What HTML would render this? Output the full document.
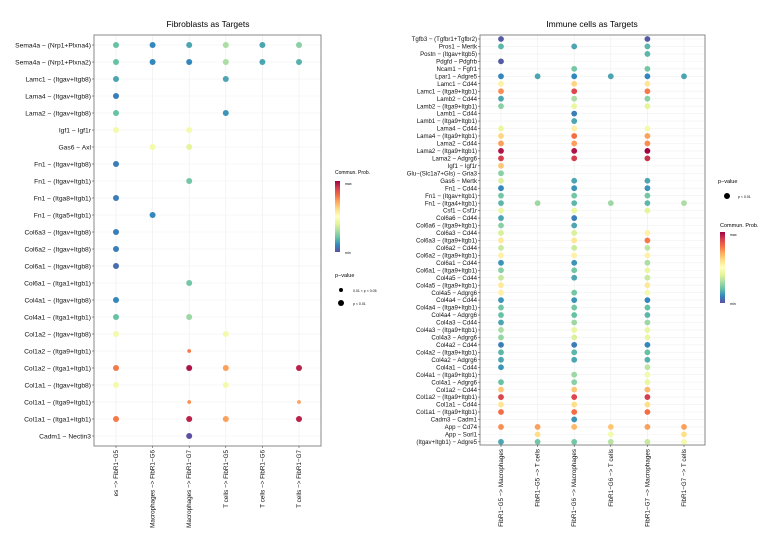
<!DOCTYPE html>
<html><head><meta charset="utf-8"><style>
body{margin:0;background:#fff}
svg{display:block;font-family:"Liberation Sans",sans-serif}
</style></head><body>
<svg id="c" width="766" height="552" viewBox="0 0 766 552">
<defs><linearGradient id="spec" x1="0" y1="1" x2="0" y2="0">
<stop offset="0" stop-color="#5e4fa2"/><stop offset="0.1" stop-color="#3288bd"/><stop offset="0.2" stop-color="#66c2a5"/><stop offset="0.3" stop-color="#abdda4"/><stop offset="0.4" stop-color="#e6f598"/><stop offset="0.5" stop-color="#ffffbf"/><stop offset="0.6" stop-color="#fee08b"/><stop offset="0.7" stop-color="#fdae61"/><stop offset="0.8" stop-color="#f46d43"/><stop offset="0.9" stop-color="#d53e4f"/><stop offset="1" stop-color="#9e0142"/></linearGradient></defs>
<text x="208" y="27" font-size="8.5" text-anchor="middle">Fibroblasts as Targets</text>
<text x="592" y="27" font-size="8.5" text-anchor="middle">Immune cells as Targets</text>
<g>
<text x="335" y="174" font-size="5">Commun. Prob.</text>
<rect x="335" y="181" width="5" height="71" fill="url(#spec)"/>
<text x="345" y="185" font-size="3.5">max</text><text x="345" y="254" font-size="3.5">min</text>
<text x="335" y="277" font-size="5.5">p−value</text>
<circle cx="341" cy="290" r="2"/><text x="353" y="292" font-size="3.5">0.01 &lt; p &lt; 0.05</text>
<circle cx="341" cy="303" r="3"/><text x="353" y="305" font-size="3.5">p &lt; 0.01</text>
</g>
<g>
<text x="718" y="183" font-size="5.5">p−value</text>
<circle cx="727" cy="196" r="3"/><text x="738" y="198" font-size="3.5">p &lt; 0.01</text>
<text x="720" y="227" font-size="5.5">Commun. Prob.</text>
<rect x="720" y="232" width="5" height="71" fill="url(#spec)"/>
<text x="730" y="236" font-size="3.5">max</text><text x="730" y="305" font-size="3.5">min</text>
</g>
</svg>
<script>
const leftRows=["Sema4a  − (Nrp1+Plxna4)","Sema4a  − (Nrp1+Plxna2)","Lamc1  − (Itgav+Itgb8)","Lama4  − (Itgav+Itgb8)","Lama2  − (Itgav+Itgb8)","Igf1  − Igf1r","Gas6  − Axl","Fn1  − (Itgav+Itgb8)","Fn1  − (Itgav+Itgb1)","Fn1  − (Itga8+Itgb1)","Fn1  − (Itga5+Itgb1)","Col6a3  − (Itgav+Itgb8)","Col6a2  − (Itgav+Itgb8)","Col6a1  − (Itgav+Itgb8)","Col6a1  − (Itga1+Itgb1)","Col4a1  − (Itgav+Itgb8)","Col4a1  − (Itga1+Itgb1)","Col1a2  − (Itgav+Itgb8)","Col1a2  − (Itga9+Itgb1)","Col1a2  − (Itga1+Itgb1)","Col1a1  − (Itgav+Itgb8)","Col1a1  − (Itga9+Itgb1)","Col1a1  − (Itga1+Itgb1)","Cadm1 − Nectin3"];
const leftCols=["es −> FibR1−G5","Macrophages −> FibR1−G6","Macrophages −> FibR1−G7","T cells −> FibR1−G5","T cells −> FibR1−G6","T cells −> FibR1−G7"];
const leftVals=[[.2,.1,.15,.3,.15,.25],[.2,.1,.1,.3,.15,.17],[.15,null,null,.15,null,null],[.08,null,null,null,null,null],[.2,null,null,.12,null,null],[.45,null,.45,null,null,null],[null,.45,.4,null,null,null],[.08,null,null,null,null,null],[null,null,.22,null,null,null],[.08,null,null,null,null,null],[null,.1,null,null,null,null],[.08,null,null,null,null,null],[.08,null,null,null,null,null],[.05,null,null,null,null,null],[null,null,.22,null,null,null],[.1,null,null,null,null,null],[.2,null,.28,null,null,null],[.45,null,null,.45,null,null],[null,null,.78,null,null,null],[.78,null,.97,.72,null,.95],[.45,null,null,.45,null,null],[null,null,.75,null,null,.72],[.78,null,.95,.72,null,.95],[null,null,0,null,null,null]];
const leftSmall=[[18,2],[21,2],[21,5]];
const rightRows=["Tgfb3  − (Tgfbr1+Tgfbr2)","Pros1 − Mertk","Postn  − (Itgav+Itgb5)","Pdgfd  − Pdgfrb","Ncam1  − Fgfr1","Lpar1 − Adgre5","Lamc1  − Cd44","Lamc1  − (Itga9+Itgb1)","Lamb2  − Cd44","Lamb2  − (Itga9+Itgb1)","Lamb1  − Cd44","Lamb1  − (Itga9+Itgb1)","Lama4  − Cd44","Lama4  − (Itga9+Itgb1)","Lama2  − Cd44","Lama2  − (Itga9+Itgb1)","Lama2 − Adgrg6","Igf1  − Igf1r","Glu−(Slc1a7+Gls) − Gria3","Gas6  − Mertk","Fn1  − Cd44","Fn1  − (Itgav+Itgb1)","Fn1  − (Itga4+Itgb1)","Csf1  − Csf1r","Col6a6  − Cd44","Col6a6  − (Itga9+Itgb1)","Col6a3  − Cd44","Col6a3  − (Itga9+Itgb1)","Col6a2  − Cd44","Col6a2  − (Itga9+Itgb1)","Col6a1  − Cd44","Col6a1  − (Itga9+Itgb1)","Col4a5  − Cd44","Col4a5  − (Itga9+Itgb1)","Col4a5 − Adgrg6","Col4a4  − Cd44","Col4a4  − (Itga9+Itgb1)","Col4a4 − Adgrg6","Col4a3  − Cd44","Col4a3  − (Itga9+Itgb1)","Col4a3 − Adgrg6","Col4a2  − Cd44","Col4a2  − (Itga9+Itgb1)","Col4a2 − Adgrg6","Col4a1  − Cd44","Col4a1  − (Itga9+Itgb1)","Col4a1 − Adgrg6","Col1a2  − Cd44","Col1a2  − (Itga9+Itgb1)","Col1a1  − Cd44","Col1a1  − (Itga9+Itgb1)","Cadm3 − Cadm1","App  − Cd74","App − Sorl1","(Itgav+Itgb1) − Adgre5"];
const rightCols=["FibR1−G5 −> Macrophages","FibR1−G5 −> T cells","FibR1−G6 −> Macrophages","FibR1−G6 −> T cells","FibR1−G7 −> Macrophages","FibR1−G7 −> T cells"];
const N=null;
const rightVals=[[.02,N,N,N,.02,N],[.18,N,.15,N,.18,N],[N,N,N,N,.18,N],[.02,N,N,N,N,N],[N,N,.22,N,.22,N],[.1,.15,.1,.15,.1,.15],[.55,N,.62,N,.58,N],[.75,N,.88,N,.78,N],[.15,N,.3,N,.25,N],[.25,N,.42,N,.4,N],[N,N,.08,N,N,N],[N,N,.15,N,N,N],[.42,N,.55,N,.45,N],[.62,N,.8,N,.72,N],[.72,N,.72,N,.75,N],[.97,N,.97,N,1,N],[.9,N,.9,N,.92,N],[.65,N,N,N,N,N],[.25,N,N,N,N,N],[.38,N,.15,N,.15,N],[.1,N,.12,N,.12,N],[.22,N,.22,N,.22,N],[.18,.28,.18,.28,.18,.3],[.42,N,.42,N,.4,N],[.15,N,.08,N,N,N],[.25,N,.15,N,N,N],[.38,N,.38,N,.55,N],[.57,N,.58,N,.78,N],[.35,N,.35,N,.33,N],[.55,N,.55,N,.55,N],[.12,N,.12,N,.3,N],[.25,N,.22,N,.42,N],[.35,N,.15,N,.35,N],[.57,N,N,N,.57,N],[.55,N,.22,N,.45,N],[.12,N,.12,N,.1,N],[.22,N,.22,N,.2,N],[.2,N,.2,N,.18,N],[.15,N,.28,N,.28,N],[.3,N,.42,N,.42,N],[.27,N,.38,N,.42,N],[.08,N,.08,N,.1,N],[.18,N,.18,N,.2,N],[.15,N,.15,N,.17,N],[.12,N,N,N,.33,N],[N,N,.28,N,.45,N],[.2,N,.25,N,.42,N],[.65,N,.65,N,.68,N],[.88,N,.88,N,.9,N],[.58,N,.6,N,.6,N],[.8,N,.8,N,.8,N],[N,N,.12,N,N,N],[.75,.72,.68,.65,.72,.72],[N,.6,N,.45,N,.6],[.15,.22,.22,.32,.35,.45]];
const rightSmall=[];
const stops=["#5e4fa2","#3288bd","#66c2a5","#abdda4","#e6f598","#ffffbf","#fee08b","#fdae61","#f46d43","#d53e4f","#9e0142"];
function hex(h){return [1,3,5].map(i=>parseInt(h.substr(i,2),16));}
function color(v){v=Math.max(0,Math.min(1,v));const t=v*10,i=Math.min(9,Math.floor(t)),f=t-i;const a=hex(stops[i]),b=hex(stops[i+1]);return 'rgb('+a.map((x,k)=>Math.round(x+(b[k]-x)*f)).join(',')+')';}
const NS="http://www.w3.org/2000/svg",svg=document.getElementById('c');
function mk(t,at,p){const e=document.createElementNS(NS,t);for(const k in at)e.setAttribute(k,at[k]);(p||svg).appendChild(e);return e;}
function panel(cfg){
const g=mk('g',{});


const xs=c=>cfg.x0+c*cfg.dx, ys=r=>cfg.y0+r*cfg.dy;
cfg.cols.forEach((c,i)=>mk('line',{x1:xs(i),x2:xs(i),y1:cfg.top,y2:cfg.bot,stroke:'#ececec','stroke-width':0.6},g));
cfg.rows.forEach((r,i)=>mk('line',{x1:cfg.left,x2:cfg.right,y1:ys(i),y2:ys(i),stroke:'#f0f0f0','stroke-width':0.6},g));
const box=mk('rect',{x:cfg.left,y:cfg.top,width:cfg.right-cfg.left,height:cfg.bot-cfg.top,fill:'none',stroke:'#888','stroke-width':1},g);


cfg.rows.forEach((r,i)=>{
mk('line',{x1:cfg.left-2,x2:cfg.left,y1:ys(i),y2:ys(i),stroke:'#333','stroke-width':0.5},g);
const t=mk('text',{x:cfg.left-3,y:ys(i)+cfg.fs*0.35,'font-size':cfg.fs,'text-anchor':'end',fill:'#111'},g);
t.textContent=r;


});
cfg.cols.forEach((c,i)=>{
mk('line',{x1:xs(i),x2:xs(i),y1:cfg.bot,y2:cfg.bot+2,stroke:'#333','stroke-width':0.5},g);
const t=mk('text',{x:0,y:0,'font-size':6.3,'text-anchor':'end',transform:'translate('+(xs(i)+2)+','+(cfg.bot+4)+') rotate(-90)',fill:'#111'},g);
t.textContent=c;


});
cfg.vals.forEach((row,r)=>row.forEach((v,c)=>{
if(v===null)return;
const small=cfg.small.some(s=>s[0]===r&&s[1]===c);
const d=mk('circle',{cx:xs(c),cy:ys(r),r:small?1.9:cfg.rad,fill:color(v)},g);


}));
}
panel({name:'left-panel',rows:leftRows,cols:leftCols,vals:leftVals,small:leftSmall,left:94,right:321,top:35,bot:446,x0:116,dx:36.6,y0:45,dy:17,fs:6.7,rad:3});
panel({name:'right-panel',rows:rightRows,cols:rightCols,vals:rightVals,small:rightSmall,left:480,right:705,top:35,bot:445,x0:501,dx:36.6,y0:39,dy:7.46,fs:6.1,rad:2.9});
</script>
</body></html>
